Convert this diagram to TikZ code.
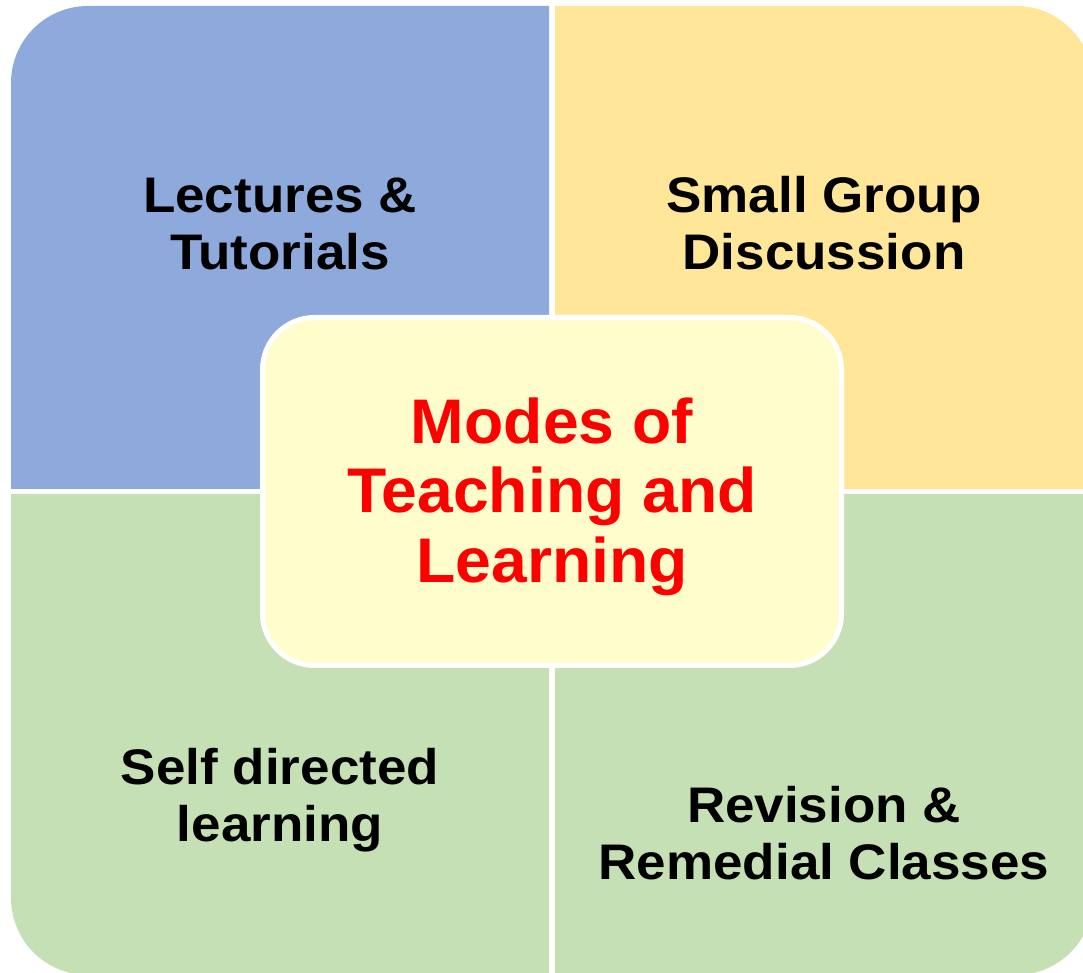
\documentclass[tikz,border=0pt]{standalone}
\usepackage{fontspec}
\setmainfont{Liberation Sans}
\newfontfamily\lblfont[FakeStretch=1.06]{Liberation Sans}
\newfontfamily\ttlfont[FakeStretch=1.02]{Liberation Sans}
\definecolor{qblue}{HTML}{8EA9DB}
\definecolor{qyellow}{HTML}{FFE699}
\definecolor{qgreen}{HTML}{C5E0B4}
\definecolor{corefill}{HTML}{FFFDCC}
\begin{document}
\begin{tikzpicture}[x=1pt,y=1pt,
  lbl/.style={inner sep=0pt,align=center,font=\lblfont\fontsize{50}{57}\selectfont\bfseries,text=black},
  corebox/.style={draw=white,line width=5pt,fill=corefill,rounded corners=52pt,inner sep=0pt,minimum width=579pt,minimum height=348pt},
  ttl/.style={inner sep=0pt,align=center,font=\ttlfont\fontsize{63}{69.5}\selectfont\bfseries,text=red}]
\useasboundingbox (0,0) rectangle (1083,973);
\clip (0,0) rectangle (1083,973);
\fill[qblue] (549,484) -- (11,484) -- (11,890) arc[start angle=180,end angle=90,radius=77] -- (549,967) -- cycle;
\fill[qyellow] (555,484) -- (555,967) -- (1016,967) arc[start angle=90,end angle=0,radius=77] -- (1093,484) -- cycle;
\fill[qgreen] (549,479) -- (549,-2) -- (88,-2) arc[start angle=270,end angle=180,radius=77] -- (11,479) -- cycle;
\fill[qgreen] (555,479) -- (1093,479) -- (1093,75) arc[start angle=0,end angle=-90,radius=77] -- (555,-2) -- cycle;
\node[lbl] (lt) at (280,749.5) {Lectures \&\\Tutorials};
\node[lbl] (sg) at (824,749.5) {Small Group\\Discussion};
\node[lbl] (sd) at (280,173) {Self directed\\learning};
\node[lbl] (rv) at (824,139.5) {Revision \&\\Remedial Classes};
\node[corebox] (core) at (552,481.5) {};
\node[ttl] (title) at (552,476.5) {Modes of\\Teaching and\\Learning};
\end{tikzpicture}
\end{document}
